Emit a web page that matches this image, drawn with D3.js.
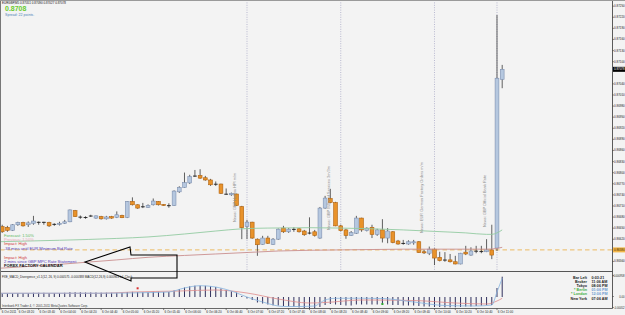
<!DOCTYPE html>
<html><head><meta charset="utf-8">
<script src="https://cdn.jsdelivr.net/npm/d3@7"></script>
<style>
body{margin:0;background:#f3f3f3;}
svg{display:block;font-family:"Liberation Sans",Arial,sans-serif;}
</style></head>
<body><svg id="c" width="625" height="315"></svg>
<script>
// ---------------- DATA ----------------
const symbol = "EURGBP,M5";
const opens = [0.86655,0.86653,0.86651,0.86643,0.86658,0.86664,0.86658,0.86662,0.86665,0.86664,
0.86664,0.86660,0.86659,0.86662,0.86666,0.86696,0.86679,0.86678,0.86681,0.86676,
0.86680,0.86674,0.86680,0.86678,0.86683,0.86678,0.86721,0.86712,0.86706,0.86705,
0.86712,0.86721,0.86713,0.86710,0.86710,0.86747,0.86759,0.86771,0.86789,0.86791,
0.86785,0.86779,0.86767,0.86768,0.86741,0.86739,0.86741,0.86707,0.86653,0.86665,
0.86619,0.86605,0.86622,0.86605,0.86619,0.86649,0.86639,0.86645,0.86647,0.86641,
0.86635,0.86639,0.86622,0.86703,0.86729,0.86718,0.86655,0.86644,0.86629,0.86635,
0.86676,0.86642,0.86651,0.86632,0.86644,0.86622,0.86639,0.86614,0.86608,0.86606,
0.86609,0.86612,0.86585,0.86581,0.86592,0.86570,0.86563,0.86563,0.86558,0.86552,
0.86584,0.86576,0.86587,0.86585,0.86585,0.86590,0.86595,0.87051];
const highs = [0.86658,0.86658,0.86655,0.86660,0.86666,0.86666,0.86667,0.86682,0.86667,0.86666,
0.86666,0.86662,0.86666,0.86671,0.86699,0.86698,0.86683,0.86681,0.86685,0.86683,
0.86682,0.86682,0.86682,0.86694,0.86685,0.86722,0.86732,0.86713,0.86717,0.86713,
0.86729,0.86722,0.86714,0.86716,0.86751,0.86762,0.86799,0.86793,0.86806,0.86808,
0.86790,0.86782,0.86775,0.86769,0.86756,0.86745,0.86742,0.86709,0.86671,0.86666,
0.86621,0.86628,0.86628,0.86622,0.86648,0.86655,0.86649,0.86651,0.86649,0.86644,
0.86678,0.86644,0.86706,0.86736,0.86755,0.86720,0.86658,0.86647,0.86641,0.86682,
0.86677,0.86651,0.86658,0.86647,0.86673,0.86649,0.86641,0.86617,0.86617,0.86616,
0.86617,0.86614,0.86590,0.86599,0.86594,0.86585,0.86584,0.86579,0.86574,0.86582,
0.86601,0.86597,0.86601,0.86601,0.86619,0.86658,0.87225,0.87090];
const lows = [0.86641,0.86636,0.86639,0.86641,0.86655,0.86653,0.86652,0.86658,0.86658,0.86658,
0.86652,0.86655,0.86656,0.86660,0.86665,0.86679,0.86674,0.86674,0.86679,0.86674,
0.86672,0.86672,0.86674,0.86676,0.86676,0.86676,0.86710,0.86701,0.86703,0.86704,
0.86710,0.86710,0.86709,0.86704,0.86709,0.86744,0.86758,0.86768,0.86787,0.86782,
0.86777,0.86763,0.86763,0.86741,0.86739,0.86736,0.86709,0.86619,0.86619,0.86620,
0.86574,0.86604,0.86606,0.86604,0.86617,0.86636,0.86636,0.86639,0.86637,0.86628,
0.86632,0.86626,0.86620,0.86701,0.86716,0.86654,0.86640,0.86620,0.86628,0.86633,
0.86639,0.86640,0.86622,0.86628,0.86610,0.86608,0.86608,0.86604,0.86604,0.86604,
0.86604,0.86582,0.86579,0.86576,0.86549,0.86559,0.86558,0.86556,0.86551,0.86551,
0.86576,0.86574,0.86581,0.86581,0.86584,0.86565,0.86587,0.87027];
const closes = [0.86647,0.86639,0.86643,0.86658,0.86664,0.86655,0.86663,0.86668,0.86664,0.86665,
0.86655,0.86658,0.86662,0.86666,0.86698,0.86680,0.86678,0.86677,0.86682,0.86682,
0.86674,0.86679,0.86676,0.86685,0.86677,0.86721,0.86712,0.86703,0.86707,0.86710,
0.86722,0.86712,0.86710,0.86709,0.86749,0.86759,0.86772,0.86788,0.86790,0.86784,
0.86779,0.86766,0.86768,0.86743,0.86740,0.86743,0.86710,0.86650,0.86665,0.86622,
0.86604,0.86622,0.86608,0.86619,0.86646,0.86639,0.86646,0.86646,0.86639,0.86631,
0.86636,0.86629,0.86703,0.86730,0.86718,0.86655,0.86642,0.86629,0.86637,0.86676,
0.86644,0.86649,0.86632,0.86644,0.86622,0.86641,0.86610,0.86606,0.86607,0.86612,
0.86612,0.86583,0.86582,0.86592,0.86568,0.86561,0.86562,0.86558,0.86552,0.86581,
0.86579,0.86587,0.86586,0.86586,0.86590,0.86576,0.87054,0.87078];

// moving averages read at sample bars
const greenMaBars = [0,12,23,29,36,42,47,52,60,66,72,78,84,90,94,95,96,97];
const greenMa = [0.86612,0.86616,0.86621,0.86625,0.86633,0.86641,0.86647,0.86649,0.86650,0.86649,0.86647,0.86644,0.86640,0.86636,0.86632,0.86632,0.86636,0.86644];
const redMaBars = [0,12,23,29,36,42,48,54,60,66,72,78,84,90,94,96,97];
const redMa = [0.86540,0.86551,0.86563,0.86570,0.86575,0.86579,0.86583,0.86587,0.86589,0.86590,0.86591,0.86592,0.86592,0.86592,0.86592,0.86594,0.86597];
const levelLine = 0.86590;

const priceTicks = [0.8725,0.8722,0.8719,0.8716,0.8713,0.8710,0.8707,0.8704,0.8701,0.8698,0.8695,0.8692,
0.8689,0.8686,0.8683,0.8680,0.8677,0.8674,0.8671,0.8668,0.8665,0.8662,0.8659,0.8656];

const timeLabelBars = [0,4,8,12,16,20,24,28,32,36,40,44,48,52,56,60,64,68,72,76,80,84,88,92,96];
const timeLabels = ["6 Oct 2011","6 Oct 03:20","6 Oct 03:40","6 Oct 04:00","6 Oct 04:20","6 Oct 04:40",
"6 Oct 05:00","6 Oct 05:20","6 Oct 05:40","6 Oct 06:00","6 Oct 06:20","6 Oct 06:40","6 Oct 07:00",
"6 Oct 07:20","6 Oct 07:40","6 Oct 08:00","6 Oct 08:20","6 Oct 08:40","6 Oct 09:00","6 Oct 09:20",
"6 Oct 09:40","6 Oct 10:00","6 Oct 10:20","6 Oct 10:40","6 Oct 11:00"];

const newsBars = [48,66,84,96];
const newsTexts = ["News: GBP Halifax HPI m/m","News: GBP Index of Services 3m/3m","News: EUR German Factory Orders m/m","News: GBP Official Bank Rate"];

// MACD indicator (units of 1e-5)
const histogram = [3.5,3.5,3.5,3.7,4,4,4,4.2,4.2,4.2,4,4,4,4.2,4.8,4.8,4.7,4.5,4.5,4.5,
4.3,4.3,4.2,4.2,4,5,5.2,5,4.8,4.7,5.2,5.2,5,5,6.5,8,9.5,10.7,11.3,11.3,
11.2,10.7,10,8.5,7,5.7,4.5,1,-1.5,-3,-5.5,-6.5,-7.5,-8.3,-8.5,-9,-9.5,-9.7,-10.5,-11,
-11,-11.3,-10,-8,-7,-7.5,-8,-8.5,-8.5,-7.5,-7.5,-7.5,-7.5,-7.5,-7.5,-7.5,-8,-8,-8.5,-8.5,
-8.5,-9,-9.5,-9.5,-10,-10,-10.3,-10.3,-10.3,-10,-9.5,-9.5,-9,-8.5,-8,-8,9,20.3];
const macdBars = [0,10,20,30,33,36,39,42,45,48,51,55,58,61,62,63,65,70,74,80,86,92,95,96,97];
const macdLine = [3.7,3.8,3.8,4.5,5,9,11.3,10,6,0,-5,-9.5,-9.5,-9,-6,-3,-1.3,-1.2,-1.5,-5,-8.5,-9,-8,5,18.7];
const signalBars = [0,20,26,35,42,48,54,60,63,70,80,88,94,96,97];
const signalLine = [3.7,3.7,5,6,7,4,-2,-6,-5.5,-3,-3.5,-6,-7,-4,-1.3];
const divBars = [27,74];
const divVals = [8.7,-7];
const indTickVals = [21.5,0.5,-10.5];
const indTickLabels = ["0.000958","0.00","-0.00052"];

const calendarLines = [
 {t:"Forecast: 1.50%", c:"#5cb85c"},
 {t:"Previous: 1.50%", c:"#e6a8b8"},
 {t:"Impact: High", c:"#d03a3a"},
 {t:"-38 mins until EUR Minimum Bid Rate", c:"#5438b8"},
 {t:"", c:"#000"},
 {t:"Impact: High", c:"#d03a3a"},
 {t:"2 mins since GBP MPC Rate Statement", c:"#5438b8"},
 {t:"FOREX FACTORY CALENDAR", c:"#111", b:true}
];
const clockLabels = ["Bar Left","Broker","Tokyo","* Berlin","* London","New York"];
const clockValues = ["0:03:21","11:06 AM","08:06 PM","01:06 PM","12:06 PM","07:06 AM"];
const clockLabelColors = ["#222","#222","#222","#3fae3f","#3fae3f","#222"];
const clockValueColors = ["#222","#222","#222","#6a9ad0","#6a9ad0","#222"];

// ---------------- DRAW ----------------
const svg = d3.select("#c");
const W = 625, H = 315;
const axisX = 612.5, mainBottom = 271.5, indTop = 272, indBottom = 308.5;
svg.append("rect").attr("width", W).attr("height", H).attr("fill", "#f3f3f3");

const defs = svg.append("defs");
defs.append("clipPath").attr("id","mainClip").append("rect").attr("x",1).attr("y",1).attr("width",axisX-1).attr("height",mainBottom-1);
defs.append("clipPath").attr("id","indClip").append("rect").attr("x",1).attr("y",indTop).attr("width",axisX-1).attr("height",indBottom-indTop);

const n = closes.length;
const x = d3.scaleLinear().domain([0, n-1]).range([-3, 502.2]);
const y = d3.scaleLinear().domain([priceTicks[0], priceTicks[priceTicks.length-1]]).range([5.7, 261]);

const main = svg.append("g").attr("clip-path","url(#mainClip)");

// news vertical lines
main.selectAll(".nl").data(newsBars).enter().append("line")
 .attr("x1", d=>x(d)).attr("x2", d=>x(d)).attr("y1",0).attr("y2",mainBottom)
 .attr("stroke","#a9a9c6").attr("stroke-width",0.8).attr("stroke-dasharray","1,1.4");

// level dashed line
main.append("line").attr("x1",0).attr("x2",axisX).attr("y1",y(levelLine)).attr("y2",y(levelLine))
 .attr("stroke","#ecba62").attr("stroke-width",1).attr("stroke-dasharray","4.5,3");

// candles
const bw = 3.8;
d3.range(n).forEach(i=>{
  const o=opens[i], h=highs[i], l=lows[i], c=closes[i];
  const cx = x(i);
  main.append("line").attr("x1",cx).attr("x2",cx).attr("y1",y(h)).attr("y2",y(l))
    .attr("stroke","#3a3a3a").attr("stroke-width",0.8);
  const yt = y(Math.max(o,c)), yb = y(Math.min(o,c));
  if (yb - yt < 0.9) {
    main.append("line").attr("x1",cx-bw/2).attr("x2",cx+bw/2).attr("y1",(yt+yb)/2).attr("y2",(yt+yb)/2)
      .attr("stroke","#1a1a1a").attr("stroke-width",0.9);
  } else {
    const up = c >= o;
    main.append("rect").attr("x",cx-bw/2).attr("y",yt).attr("width",bw).attr("height",yb-yt)
      .attr("fill", up ? "#b5c7df" : "#e8922a")
      .attr("stroke", up ? "#7e90b0" : "#b0620e").attr("stroke-width",0.6);
  }
});

// moving averages
const lineGen = d3.line().x(d=>x(d[0])).y(d=>y(d[1])).curve(d3.curveMonotoneX);
main.append("path").attr("d", lineGen(greenMaBars.map((b,i)=>[b,greenMa[i]])))
  .attr("fill","none").attr("stroke","#93cba2").attr("stroke-width",0.9);
main.append("path").attr("d", lineGen(redMaBars.map((b,i)=>[b,redMa[i]])))
  .attr("fill","none").attr("stroke","#c98f8f").attr("stroke-width",0.9);

// news vertical texts
newsBars.forEach((b,i)=>{
  const tx = x(b) - 11, ty = [222,230,233,227][i];
  main.append("text").attr("transform",`translate(${tx},${ty}) rotate(-90)`)
    .attr("font-size",3.9).attr("fill","#8e8e8e").text(newsTexts[i]);
});

// header texts
const last = n-1;
svg.append("text").attr("x",2).attr("y",4.3).attr("font-size",3).attr("fill","#111")
  .text(`${symbol}  ${opens[last].toFixed(5)} ${highs[last].toFixed(5)} ${lows[last].toFixed(5)} ${closes[last].toFixed(5)}`);
svg.append("text").attr("x",5).attr("y",11).attr("font-size",7).attr("font-weight","bold").attr("fill","#6acb2e")
  .text(closes[last].toFixed(4));
svg.append("text").attr("x",5).attr("y",15.8).attr("font-size",3.6).attr("fill","#4f7fb8").text("Spread: 22 points.");

// calendar texts
calendarLines.forEach((d,i)=>{
  if(!d.t) return;
  svg.append("text").attr("x",4).attr("y",236.5 + i*4.4).attr("font-size",4.1)
    .attr("font-weight", d.b ? "bold" : "normal").attr("fill",d.c).text(d.t);
});

// right price axis
const axG = svg.append("g").attr("transform",`translate(${axisX},0)`);
const hidden = [closes[last], levelLine];
const shownTicks = priceTicks.filter(t=>hidden.every(h=>Math.abs(y(t)-y(h))>4));
axG.call(d3.axisRight(y).tickValues(shownTicks).tickFormat(d3.format(".5f")).tickSize(1.3).tickPadding(0.3));
axG.select(".domain").remove();
axG.selectAll("line").attr("stroke","#333").attr("stroke-width",0.6);
axG.selectAll("text").attr("font-size",2.95).attr("fill","#222").attr("font-family","Liberation Sans, Arial");
svg.append("line").attr("x1",axisX).attr("x2",axisX).attr("y1",0).attr("y2",indBottom).attr("stroke","#333").attr("stroke-width",0.8);

// highlighted price labels
function priceTag(v, bgc, fg){
  const yy = y(v);
  svg.append("rect").attr("x",axisX+0.5).attr("y",yy-2.5).attr("width",12.5).attr("height",5).attr("fill",bgc);
  svg.append("text").attr("x",624.6).attr("y",yy+1.1).attr("text-anchor","end").attr("font-size",2.95).attr("fill",fg).text(v.toFixed(5));
}
priceTag(levelLine, "#f2b648", "#3a2a00");
priceTag(closes[last], "#000", "#fff");

// panel borders
svg.append("line").attr("x1",0).attr("x2",axisX).attr("y1",mainBottom).attr("y2",mainBottom).attr("stroke","#444").attr("stroke-width",0.9);
svg.append("line").attr("x1",0).attr("x2",axisX).attr("y1",indBottom).attr("y2",indBottom).attr("stroke","#444").attr("stroke-width",0.8);
svg.append("line").attr("x1",0.5).attr("x2",0.5).attr("y1",0).attr("y2",indBottom).attr("stroke","#777").attr("stroke-width",1);
svg.append("line").attr("x1",0).attr("x2",W).attr("y1",0.5).attr("y2",0.5).attr("stroke","#9a9a9a").attr("stroke-width",1);

// ---------------- INDICATOR ----------------
const yi = d3.scaleLinear().domain([-11, 25]).range([308, 272]);
const ind = svg.append("g").attr("clip-path","url(#indClip)");
ind.selectAll(".hb").data(histogram).enter().append("line")
  .attr("x1",(d,i)=>x(i)).attr("x2",(d,i)=>x(i)).attr("y1",yi(0)).attr("y2",d=>yi(d))
  .attr("stroke","#1b1b4d").attr("stroke-width",0.9);
const il = d3.line().x(d=>x(d[0])).y(d=>yi(d[1])).curve(d3.curveMonotoneX);
ind.append("path").attr("d", il(signalBars.map((b,i)=>[b,signalLine[i]])))
  .attr("fill","none").attr("stroke","#e08c8c").attr("stroke-width",0.8);
ind.append("path").attr("d", il(macdBars.map((b,i)=>[b,macdLine[i]])))
  .attr("fill","none").attr("stroke","#86b4e0").attr("stroke-width",0.8);
ind.selectAll(".dv").data(divBars).enter().append("rect")
  .attr("x",d=>x(d)-1).attr("y",(d,i)=>yi(divVals[i])-1).attr("width",2).attr("height",2)
  .attr("fill",(d,i)=>i===0?"#d83030":"#2ea82e");

svg.append("text").attr("x",2).attr("y",278).attr("font-size",3).attr("fill","#222")
  .text("FXE_MACD_Divergence_v1.1(12, 26, 9)  0.000575  -0.000388  MACD(12,26,9) 0.000963  Inf. Clock");
svg.append("text").attr("x",2).attr("y",307.2).attr("font-size",3).attr("fill","#333")
  .text("Interbank FX Trader 4, \u00A9 2001-2011 MetaQuotes Software Corp.");

// indicator axis
indTickVals.forEach((v,i)=>{
  svg.append("line").attr("x1",axisX).attr("x2",axisX+1.3).attr("y1",yi(v)).attr("y2",yi(v)).attr("stroke","#333").attr("stroke-width",0.6);
  svg.append("text").attr("x",624.6).attr("y",yi(v)+1.1).attr("text-anchor","end").attr("font-size",2.7).attr("fill","#222").text(indTickLabels[i]);
});

// clock box
clockLabels.forEach((t,i)=>{
  const yy = 278.6 + i*4.2;
  svg.append("text").attr("x",587).attr("y",yy).attr("text-anchor","end").attr("font-size",3.7)
    .attr("font-weight","bold").attr("fill",clockLabelColors[i]).text(t);
  svg.append("text").attr("x",591.5).attr("y",yy).attr("font-size",3.7)
    .attr("font-weight","bold").attr("fill",clockValueColors[i]).text(clockValues[i]);
});

// time axis
timeLabelBars.forEach((b,i)=>{
  const tx = Math.max(1, x(b));
  svg.append("line").attr("x1",tx).attr("x2",tx).attr("y1",indBottom).attr("y2",indBottom+1.6).attr("stroke","#333").attr("stroke-width",0.6);
  svg.append("text").attr("x",tx+0.8).attr("y",313.2).attr("font-size",3).attr("fill","#222").text(timeLabels[i]);
});

// annotation arrow
svg.append("path").attr("d","M85,262 L130,247 L131,255 L177,255 L177,278 L131,278 L131,281 Z")
  .attr("fill","none").attr("stroke","#000").attr("stroke-width",1.1).attr("stroke-linejoin","miter");
</script>
</body></html>
